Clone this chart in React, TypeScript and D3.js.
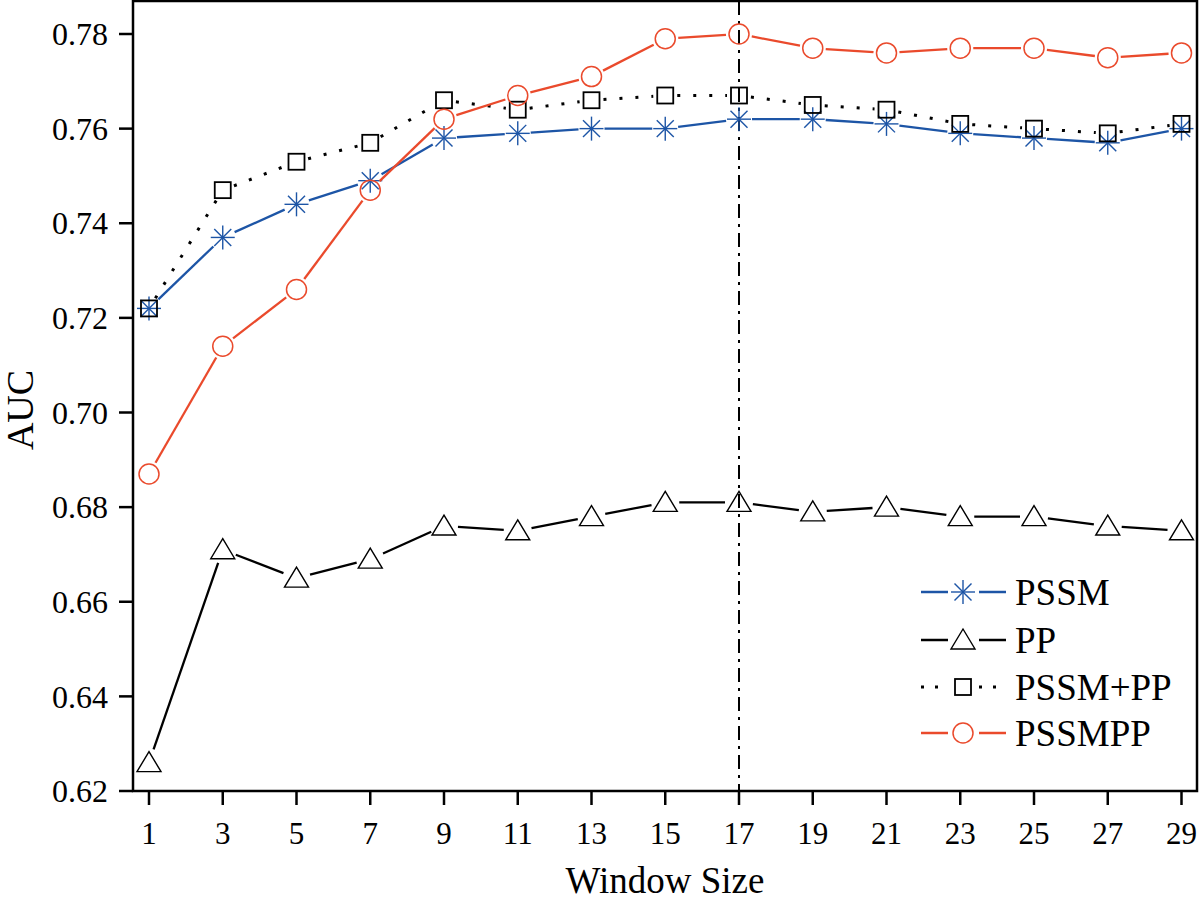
import React from 'react';
import * as d3 from 'd3';

const windowSizes = [1, 3, 5, 7, 9, 11, 13, 15, 17, 19, 21, 23, 25, 27, 29];
const pssm = [0.722, 0.737, 0.744, 0.749, 0.758, 0.759, 0.760, 0.760, 0.762, 0.762, 0.761, 0.759, 0.758, 0.757, 0.760];
const pp = [0.626, 0.671, 0.665, 0.669, 0.676, 0.675, 0.678, 0.681, 0.681, 0.679, 0.680, 0.678, 0.678, 0.676, 0.675];
const pssmPlusPp = [0.722, 0.747, 0.753, 0.757, 0.766, 0.764, 0.766, 0.767, 0.767, 0.765, 0.764, 0.761, 0.760, 0.759, 0.761];
const pssmpp = [0.687, 0.714, 0.726, 0.747, 0.762, 0.767, 0.771, 0.779, 0.780, 0.777, 0.776, 0.777, 0.777, 0.775, 0.776];
const yTicks = [0.62, 0.64, 0.66, 0.68, 0.70, 0.72, 0.74, 0.76, 0.78];
const bestWindow = 17;

const FONT = '"Liberation Serif", "Times New Roman", serif';
const BLUE = '#1d55a6';
const RED = '#ea4a2c';

type Series = { name: string; values: number[]; color: string; marker: string; dash?: string; gap: number };

const series: Series[] = [
  { name: 'PSSM', values: pssm, color: BLUE, marker: 'star', gap: 13 },
  { name: 'PP', values: pp, color: '#000', marker: 'triangle', gap: 14 },
  { name: 'PSSM+PP', values: pssmPlusPp, color: '#000', marker: 'square', dash: '3 13', gap: 12 },
  { name: 'PSSMPP', values: pssmpp, color: RED, marker: 'circle', gap: 13 },
];

const Marker = ({ type, x, y, color }: { type: string; x: number; y: number; color: string }) => {
  if (type === 'circle') return <circle cx={x} cy={y} r={10} fill="none" stroke={color} strokeWidth={1.5} />;
  if (type === 'square') return <rect x={x - 8} y={y - 8} width={16} height={16} fill="none" stroke={color} strokeWidth={1.8} />;
  if (type === 'triangle') {
    const p = `${x},${y - 11} ${x + 12},${y + 9} ${x - 12},${y + 9}`;
    return <polygon points={p} fill="none" stroke={color} strokeWidth={1.4} />;
  }
  const r = 12;
  return (
    <g stroke={color} strokeWidth={1.4}>
      {[0, 45, 90, 135].map(a => {
        const t = (a * Math.PI) / 180;
        return <line key={a} x1={x - r * Math.cos(t)} y1={y - r * Math.sin(t)} x2={x + r * Math.cos(t)} y2={y + r * Math.sin(t)} />;
      })}
    </g>
  );
};

export default function App() {
  const W = 1200, H = 902;
  const left = 133, right = 1197, top = 1, bottom = 791;

  const x = d3.scaleLinear().domain([1, 29]).range([149, 1181.5]);
  const y = d3.scaleLinear().domain([0.62, 0.78]).range([791, 34]);

  const segments = (s: Series) => {
    const pts = windowSizes.map((w, i) => [x(w), y(s.values[i])]);
    const out: string[] = [];
    for (let i = 0; i < pts.length - 1; i++) {
      const [x1, y1] = pts[i];
      const [x2, y2] = pts[i + 1];
      const len = Math.hypot(x2 - x1, y2 - y1);
      if (len <= 2 * s.gap) continue;
      const ux = (x2 - x1) / len, uy = (y2 - y1) / len;
      out.push(d3.line()([[x1 + ux * s.gap, y1 + uy * s.gap], [x2 - ux * s.gap, y2 - uy * s.gap]]) as string);
    }
    return out;
  };

  const legendY = [592, 640, 687, 733];

  return (
    <svg width={W} height={H} viewBox={`0 0 ${W} ${H}`} style={{ position: 'absolute', left: 0, top: 0, background: '#fff' }}>
      <rect x={0} y={0} width={W} height={H} fill="#fff" />
      {/* vertical marker line at best window size */}
      <line x1={x(bestWindow)} x2={x(bestWindow)} y1={top} y2={bottom} stroke="#000" strokeWidth={2} strokeDasharray="14 6 3 6" />

      {series.map(s => (
        <g key={s.name}>
          {segments(s).map((d, i) => (
            <path key={i} d={d} fill="none" stroke={s.color} strokeWidth={s.dash ? 3 : 2.3} strokeDasharray={s.dash} />
          ))}
          {windowSizes.map((w, i) => (
            <Marker key={w} type={s.marker} x={x(w)} y={y(s.values[i])} color={s.color} />
          ))}
        </g>
      ))}

      {/* frame */}
      <rect x={left} y={top} width={right - left} height={bottom - top} fill="none" stroke="#000" strokeWidth={2.5} />

      {/* y axis */}
      {yTicks.map(t => (
        <g key={t}>
          <line x1={left - 14} x2={left} y1={y(t)} y2={y(t)} stroke="#000" strokeWidth={2.5} />
          <text x={108} y={y(t)} dy="0.35em" textAnchor="end" fontFamily={FONT} fontSize={32}>{d3.format('.2f')(t)}</text>
        </g>
      ))}
      {/* x axis */}
      {windowSizes.map(w => (
        <g key={w}>
          <line x1={x(w)} x2={x(w)} y1={bottom} y2={bottom + 14} stroke="#000" strokeWidth={2.5} />
          <text x={x(w)} y={844} textAnchor="middle" fontFamily={FONT} fontSize={31}>{w}</text>
        </g>
      ))}

      <text x={665} y={893} textAnchor="middle" fontFamily={FONT} fontSize={37}>Window Size</text>
      <text transform={`translate(33,410) rotate(-90)`} textAnchor="middle" fontFamily={FONT} fontSize={38}>AUC</text>

      {/* legend */}
      {series.map((s, i) => (
        <g key={s.name}>
          <line x1={921} x2={948} y1={legendY[i]} y2={legendY[i]} stroke={s.color} strokeWidth={s.dash ? 3 : 2.5} strokeDasharray={s.dash ? '3 11' : undefined} />
          <line x1={979} x2={1006} y1={legendY[i]} y2={legendY[i]} stroke={s.color} strokeWidth={s.dash ? 3 : 2.5} strokeDasharray={s.dash ? '3 11' : undefined} />
          <Marker type={s.marker} x={963} y={legendY[i]} color={s.color} />
          <text x={1015} y={legendY[i]} dy="0.35em" fontFamily={FONT} fontSize={37}>{s.name}</text>
        </g>
      ))}
    </svg>
  );
}
